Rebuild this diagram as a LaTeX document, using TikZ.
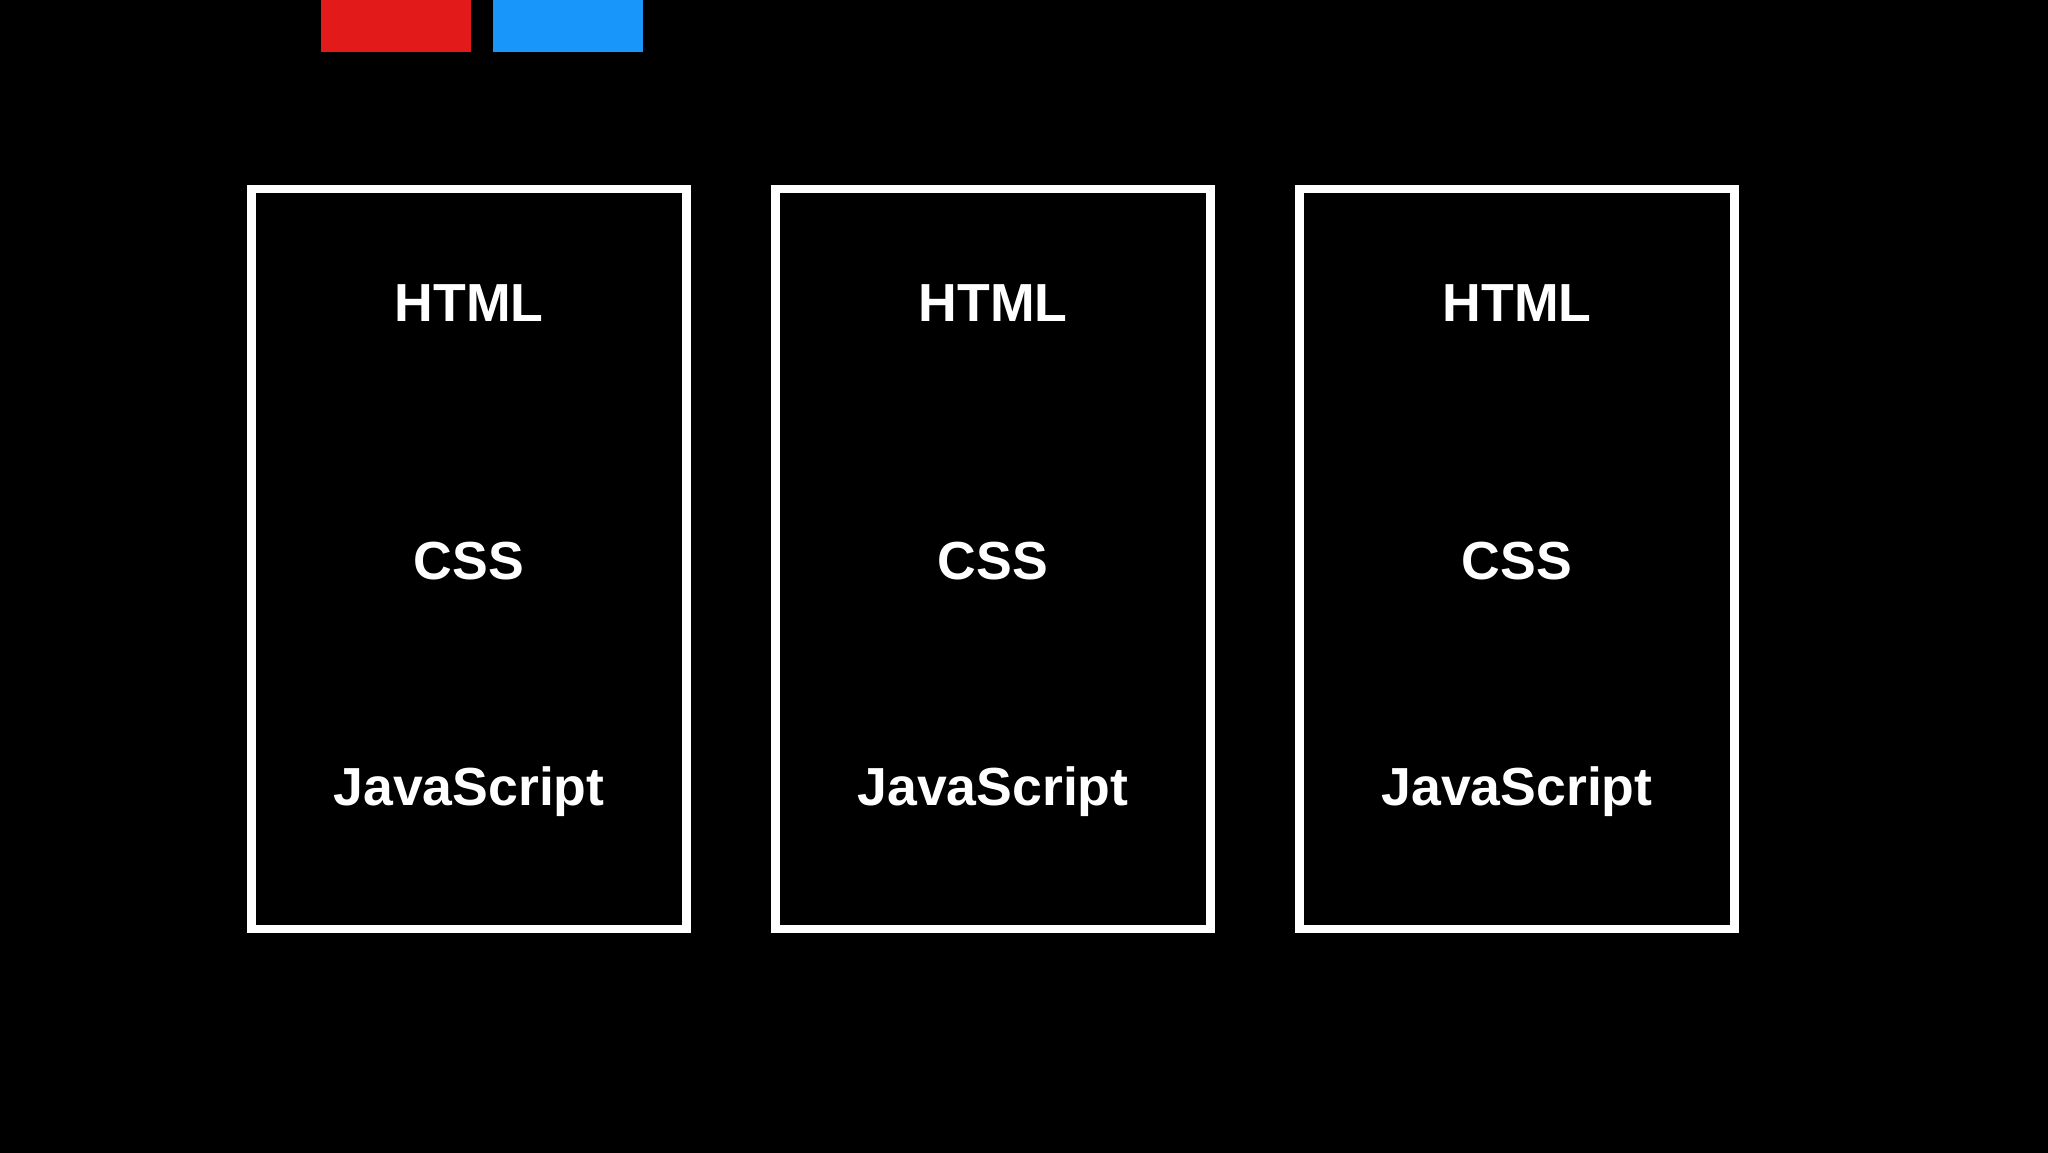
\documentclass[tikz,border=0pt]{standalone}
\usepackage{fontspec}
\setmainfont{Liberation Sans}
\definecolor{topred}{HTML}{E31A1A}
\definecolor{topblue}{HTML}{1896FA}
\begin{document}
\begin{tikzpicture}[x=0.5pt,y=-0.5pt,
  panel/.style={draw=white,line width=4.15pt},
  lbl/.style={text=white,font=\bfseries\fontsize{26.8pt}{30pt}\selectfont,anchor=base,inner sep=0pt}]
\useasboundingbox (0,0) rectangle (2048,1152);
\fill[black] (-4,-4) rectangle (2052,1156);
\fill[topred] (321,-4) rectangle (471,52);
\fill[topblue] (493,-4) rectangle (643,52);
\foreach \i/\cx in {1/469,2/993,3/1517}{
  \draw[panel] (\cx-217.5,189) rectangle (\cx+217.5,929);
  \node[lbl] (html\i) at (\cx,321) {HTML};
  \node[lbl] (css\i) at (\cx,579) {CSS};
  \node[lbl] (js\i) at (\cx,805) {JavaScript};
}
\end{tikzpicture}
\end{document}
